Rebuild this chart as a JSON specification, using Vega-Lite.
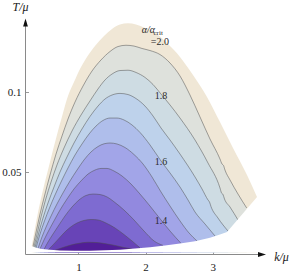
{
  "$schema": "https://vega.github.io/schema/vega-lite/v6.json",
  "width": 293,
  "height": 272,
  "autosize": {"type": "none"},
  "padding": 0,
  "background": "white",
  "config": {"view": {"stroke": null}, "font": "Liberation Serif"},
  "datasets": {
    "contours": [
      {"level": 2.0, "k": 0.3051, "T": 0.0039}, {"level": 2.0, "k": 0.3542, "T": 0.0152}, {"level": 2.0, "k": 0.4063, "T": 0.0264}, {"level": 2.0, "k": 0.4732, "T": 0.0389}, {"level": 2.0, "k": 0.5476, "T": 0.0514}, {"level": 2.0, "k": 0.6220, "T": 0.0639}, {"level": 2.0, "k": 0.6964, "T": 0.0758}, {"level": 2.0, "k": 0.7708, "T": 0.0871}, {"level": 2.0, "k": 0.8452, "T": 0.0977}, {"level": 2.0, "k": 0.9345, "T": 0.1064}, {"level": 2.0, "k": 1.0238, "T": 0.1146}, {"level": 2.0, "k": 1.1280, "T": 0.1221}, {"level": 2.0, "k": 1.2470, "T": 0.1289}, {"level": 2.0, "k": 1.3810, "T": 0.1352}, {"level": 2.0, "k": 1.5000, "T": 0.1396}, {"level": 2.0, "k": 1.6190, "T": 0.1424}, {"level": 2.0, "k": 1.7381, "T": 0.1431}, {"level": 2.0, "k": 1.8571, "T": 0.1424}, {"level": 2.0, "k": 1.9911, "T": 0.1402}, {"level": 2.0, "k": 2.1101, "T": 0.1380}, {"level": 2.0, "k": 2.3185, "T": 0.1308}, {"level": 2.0, "k": 2.5119, "T": 0.1221}, {"level": 2.0, "k": 2.7054, "T": 0.1108}, {"level": 2.0, "k": 2.9137, "T": 0.0971}, {"level": 2.0, "k": 3.1071, "T": 0.0814}, {"level": 2.0, "k": 3.3006, "T": 0.0652}, {"level": 2.0, "k": 3.5089, "T": 0.0483}, {"level": 2.0, "k": 3.6577, "T": 0.0346},
      {"level": 1.9, "k": 0.3244, "T": 0.0036}, {"level": 1.9, "k": 0.3765, "T": 0.0139}, {"level": 1.9, "k": 0.4286, "T": 0.0239}, {"level": 1.9, "k": 0.4955, "T": 0.0352}, {"level": 1.9, "k": 0.5774, "T": 0.0483}, {"level": 1.9, "k": 0.6667, "T": 0.0614}, {"level": 1.9, "k": 0.7560, "T": 0.0727}, {"level": 1.9, "k": 0.8452, "T": 0.0833}, {"level": 1.9, "k": 0.9494, "T": 0.0939}, {"level": 1.9, "k": 1.0685, "T": 0.1039}, {"level": 1.9, "k": 1.2024, "T": 0.1133}, {"level": 1.9, "k": 1.3363, "T": 0.1202}, {"level": 1.9, "k": 1.4702, "T": 0.1255}, {"level": 1.9, "k": 1.5893, "T": 0.1286}, {"level": 1.9, "k": 1.7083, "T": 0.1294}, {"level": 1.9, "k": 1.8274, "T": 0.1289}, {"level": 1.9, "k": 1.9464, "T": 0.1274}, {"level": 1.9, "k": 2.0655, "T": 0.1261}, {"level": 1.9, "k": 2.2143, "T": 0.1236}, {"level": 1.9, "k": 2.3631, "T": 0.1183}, {"level": 1.9, "k": 2.5119, "T": 0.1102}, {"level": 1.9, "k": 2.6607, "T": 0.0983}, {"level": 1.9, "k": 2.8095, "T": 0.0846}, {"level": 1.9, "k": 2.9583, "T": 0.0708}, {"level": 1.9, "k": 3.1071, "T": 0.0583}, {"level": 1.9, "k": 3.1369, "T": 0.0552}, {"level": 1.9, "k": 3.1592, "T": 0.0543}, {"level": 1.9, "k": 3.1815, "T": 0.0514}, {"level": 1.9, "k": 3.2560, "T": 0.0452}, {"level": 1.9, "k": 3.3750, "T": 0.0364}, {"level": 1.9, "k": 3.5045, "T": 0.0277},
      {"level": 1.8, "k": 0.3393, "T": 0.0033}, {"level": 1.8, "k": 0.3914, "T": 0.0127}, {"level": 1.8, "k": 0.4435, "T": 0.0221}, {"level": 1.8, "k": 0.5104, "T": 0.0327}, {"level": 1.8, "k": 0.5923, "T": 0.0439}, {"level": 1.8, "k": 0.6815, "T": 0.0546}, {"level": 1.8, "k": 0.7857, "T": 0.0652}, {"level": 1.8, "k": 0.9048, "T": 0.0758}, {"level": 1.8, "k": 1.0387, "T": 0.0858}, {"level": 1.8, "k": 1.1726, "T": 0.0946}, {"level": 1.8, "k": 1.2917, "T": 0.1021}, {"level": 1.8, "k": 1.3958, "T": 0.1077}, {"level": 1.8, "k": 1.5000, "T": 0.1114}, {"level": 1.8, "k": 1.6190, "T": 0.1136}, {"level": 1.8, "k": 1.7381, "T": 0.1138}, {"level": 1.8, "k": 1.8571, "T": 0.1124}, {"level": 1.8, "k": 1.9911, "T": 0.1093}, {"level": 1.8, "k": 2.1101, "T": 0.1049}, {"level": 1.8, "k": 2.2292, "T": 0.0989}, {"level": 1.8, "k": 2.3631, "T": 0.0921}, {"level": 1.8, "k": 2.5119, "T": 0.0839}, {"level": 1.8, "k": 2.7351, "T": 0.0702}, {"level": 1.8, "k": 2.9286, "T": 0.0558}, {"level": 1.8, "k": 3.1071, "T": 0.0402}, {"level": 1.8, "k": 3.1295, "T": 0.0371}, {"level": 1.8, "k": 3.1518, "T": 0.0361}, {"level": 1.8, "k": 3.1741, "T": 0.0333}, {"level": 1.8, "k": 3.2560, "T": 0.0283}, {"level": 1.8, "k": 3.3750, "T": 0.0202},
      {"level": 1.7, "k": 0.3542, "T": 0.0030}, {"level": 1.7, "k": 0.4137, "T": 0.0127}, {"level": 1.7, "k": 0.4732, "T": 0.0214}, {"level": 1.7, "k": 0.5476, "T": 0.0308}, {"level": 1.7, "k": 0.6369, "T": 0.0408}, {"level": 1.7, "k": 0.7262, "T": 0.0502}, {"level": 1.7, "k": 0.8304, "T": 0.0596}, {"level": 1.7, "k": 0.9345, "T": 0.0683}, {"level": 1.7, "k": 1.0536, "T": 0.0771}, {"level": 1.7, "k": 1.1726, "T": 0.0849}, {"level": 1.7, "k": 1.2917, "T": 0.0914}, {"level": 1.7, "k": 1.3958, "T": 0.0958}, {"level": 1.7, "k": 1.5000, "T": 0.0983}, {"level": 1.7, "k": 1.6190, "T": 0.0993}, {"level": 1.7, "k": 1.7381, "T": 0.0986}, {"level": 1.7, "k": 1.8571, "T": 0.0961}, {"level": 1.7, "k": 1.9911, "T": 0.0914}, {"level": 1.7, "k": 2.1101, "T": 0.0852}, {"level": 1.7, "k": 2.2292, "T": 0.0777}, {"level": 1.7, "k": 2.3631, "T": 0.0702}, {"level": 1.7, "k": 2.5119, "T": 0.0614}, {"level": 1.7, "k": 2.7351, "T": 0.0471}, {"level": 1.7, "k": 2.8393, "T": 0.0396}, {"level": 1.7, "k": 2.9286, "T": 0.0327}, {"level": 1.7, "k": 2.9509, "T": 0.0314}, {"level": 1.7, "k": 2.9732, "T": 0.0286}, {"level": 1.7, "k": 3.0774, "T": 0.0214}, {"level": 1.7, "k": 3.2262, "T": 0.0133},
      {"level": 1.6, "k": 0.3690, "T": 0.0027}, {"level": 1.6, "k": 0.4286, "T": 0.0114}, {"level": 1.6, "k": 0.4955, "T": 0.0196}, {"level": 1.6, "k": 0.5699, "T": 0.0277}, {"level": 1.6, "k": 0.6518, "T": 0.0358}, {"level": 1.6, "k": 0.7411, "T": 0.0439}, {"level": 1.6, "k": 0.8452, "T": 0.0527}, {"level": 1.6, "k": 0.9494, "T": 0.0608}, {"level": 1.6, "k": 1.0536, "T": 0.0677}, {"level": 1.6, "k": 1.1577, "T": 0.0739}, {"level": 1.6, "k": 1.2619, "T": 0.0789}, {"level": 1.6, "k": 1.3661, "T": 0.0824}, {"level": 1.6, "k": 1.4702, "T": 0.0839}, {"level": 1.6, "k": 1.5744, "T": 0.0839}, {"level": 1.6, "k": 1.6786, "T": 0.0827}, {"level": 1.6, "k": 1.7976, "T": 0.0796}, {"level": 1.6, "k": 1.9167, "T": 0.0749}, {"level": 1.6, "k": 2.0655, "T": 0.0671}, {"level": 1.6, "k": 2.2292, "T": 0.0571}, {"level": 1.6, "k": 2.3631, "T": 0.0496}, {"level": 1.6, "k": 2.5119, "T": 0.0408}, {"level": 1.6, "k": 2.6310, "T": 0.0327}, {"level": 1.6, "k": 2.7351, "T": 0.0252}, {"level": 1.6, "k": 2.8839, "T": 0.0177}, {"level": 1.6, "k": 3.0327, "T": 0.0102},
      {"level": 1.5, "k": 0.3988, "T": 0.0024}, {"level": 1.5, "k": 0.4583, "T": 0.0096}, {"level": 1.5, "k": 0.5253, "T": 0.0164}, {"level": 1.5, "k": 0.5997, "T": 0.0233}, {"level": 1.5, "k": 0.6815, "T": 0.0302}, {"level": 1.5, "k": 0.7708, "T": 0.0371}, {"level": 1.5, "k": 0.8750, "T": 0.0446}, {"level": 1.5, "k": 0.9792, "T": 0.0514}, {"level": 1.5, "k": 1.0833, "T": 0.0577}, {"level": 1.5, "k": 1.1875, "T": 0.0627}, {"level": 1.5, "k": 1.2917, "T": 0.0661}, {"level": 1.5, "k": 1.3810, "T": 0.0678}, {"level": 1.5, "k": 1.4702, "T": 0.0683}, {"level": 1.5, "k": 1.5744, "T": 0.0677}, {"level": 1.5, "k": 1.6935, "T": 0.0655}, {"level": 1.5, "k": 1.8274, "T": 0.0611}, {"level": 1.5, "k": 1.9613, "T": 0.0552}, {"level": 1.5, "k": 2.0952, "T": 0.0471}, {"level": 1.5, "k": 2.2292, "T": 0.0377}, {"level": 1.5, "k": 2.3631, "T": 0.0289}, {"level": 1.5, "k": 2.5119, "T": 0.0196}, {"level": 1.5, "k": 2.6458, "T": 0.0121}, {"level": 1.5, "k": 2.7649, "T": 0.0071},
      {"level": 1.4, "k": 0.4286, "T": 0.0021}, {"level": 1.4, "k": 0.4881, "T": 0.0077}, {"level": 1.4, "k": 0.5625, "T": 0.0139}, {"level": 1.4, "k": 0.6443, "T": 0.0202}, {"level": 1.4, "k": 0.7262, "T": 0.0264}, {"level": 1.4, "k": 0.8304, "T": 0.0333}, {"level": 1.4, "k": 0.9345, "T": 0.0396}, {"level": 1.4, "k": 1.0387, "T": 0.0446}, {"level": 1.4, "k": 1.1429, "T": 0.0489}, {"level": 1.4, "k": 1.2470, "T": 0.0514}, {"level": 1.4, "k": 1.3363, "T": 0.0524}, {"level": 1.4, "k": 1.4256, "T": 0.0524}, {"level": 1.4, "k": 1.5298, "T": 0.0508}, {"level": 1.4, "k": 1.6488, "T": 0.0477}, {"level": 1.4, "k": 1.7827, "T": 0.0427}, {"level": 1.4, "k": 1.9167, "T": 0.0364}, {"level": 1.4, "k": 2.0655, "T": 0.0289}, {"level": 1.4, "k": 2.2292, "T": 0.0202}, {"level": 1.4, "k": 2.3631, "T": 0.0133}, {"level": 1.4, "k": 2.5268, "T": 0.0056},
      {"level": 1.3, "k": 0.4881, "T": 0.0018}, {"level": 1.3, "k": 0.5476, "T": 0.0064}, {"level": 1.3, "k": 0.6220, "T": 0.0114}, {"level": 1.3, "k": 0.7113, "T": 0.0171}, {"level": 1.3, "k": 0.8006, "T": 0.0227}, {"level": 1.3, "k": 0.9048, "T": 0.0283}, {"level": 1.3, "k": 1.0089, "T": 0.0327}, {"level": 1.3, "k": 1.1131, "T": 0.0355}, {"level": 1.3, "k": 1.2173, "T": 0.0364}, {"level": 1.3, "k": 1.3214, "T": 0.0361}, {"level": 1.3, "k": 1.4256, "T": 0.0346}, {"level": 1.3, "k": 1.5446, "T": 0.0311}, {"level": 1.3, "k": 1.6786, "T": 0.0264}, {"level": 1.3, "k": 1.8274, "T": 0.0202}, {"level": 1.3, "k": 1.9762, "T": 0.0133}, {"level": 1.3, "k": 2.1250, "T": 0.0071}, {"level": 1.3, "k": 2.2589, "T": 0.0043},
      {"level": 1.2, "k": 0.5476, "T": 0.0014}, {"level": 1.2, "k": 0.6220, "T": 0.0046}, {"level": 1.2, "k": 0.6964, "T": 0.0080}, {"level": 1.2, "k": 0.7857, "T": 0.0121}, {"level": 1.2, "k": 0.8750, "T": 0.0155}, {"level": 1.2, "k": 0.9792, "T": 0.0183}, {"level": 1.2, "k": 1.0833, "T": 0.0199}, {"level": 1.2, "k": 1.1875, "T": 0.0205}, {"level": 1.2, "k": 1.2917, "T": 0.0202}, {"level": 1.2, "k": 1.4107, "T": 0.0183}, {"level": 1.2, "k": 1.5446, "T": 0.0152}, {"level": 1.2, "k": 1.6786, "T": 0.0111}, {"level": 1.2, "k": 1.7976, "T": 0.0071}, {"level": 1.2, "k": 1.9167, "T": 0.0028},
      {"level": 1.1, "k": 0.6518, "T": 0.0013}, {"level": 1.1, "k": 0.7560, "T": 0.0028}, {"level": 1.1, "k": 0.8750, "T": 0.0044}, {"level": 1.1, "k": 1.0089, "T": 0.0056}, {"level": 1.1, "k": 1.1429, "T": 0.0063}, {"level": 1.1, "k": 1.2768, "T": 0.0061}, {"level": 1.1, "k": 1.4107, "T": 0.0053}, {"level": 1.1, "k": 1.5446, "T": 0.0043}, {"level": 1.1, "k": 1.6786, "T": 0.0030}, {"level": 1.1, "k": 1.7976, "T": 0.0021}
    ],
    "boundary": [
      {"k": 0.2946, "T": 0.0039}, {"k": 0.3690, "T": 0.0028}, {"k": 0.4583, "T": 0.0021}, {"k": 0.5774, "T": 0.0016}, {"k": 0.7262, "T": 0.0012}, {"k": 0.9494, "T": 0.0010}, {"k": 1.1726, "T": 0.0010}, {"k": 1.3958, "T": 0.0013}, {"k": 1.6190, "T": 0.0016}, {"k": 1.8423, "T": 0.0023}, {"k": 2.0655, "T": 0.0031}, {"k": 2.2887, "T": 0.0043}, {"k": 2.5119, "T": 0.0055}, {"k": 2.7351, "T": 0.0069}, {"k": 2.9583, "T": 0.0091}, {"k": 3.1071, "T": 0.0111}, {"k": 3.2113, "T": 0.0127}, {"k": 3.6577, "T": 0.0346}
    ],
    "axislines": [
      {"k": 0.2128, "T": -0.001375, "k2": 0.2128, "T2": 0.1439},
      {"k": 0.2128, "T": -0.001375, "k2": 3.6875, "T2": -0.001375}
    ]
  },
  "layer": [
    {
      "data": {"name": "contours"},
      "mark": {"type": "area", "interpolate": "monotone"},
      "encoding": {
        "x": {
          "field": "k", "type": "quantitative",
          "scale": {"domain": [-0.166667, 4.193452], "nice": false, "zero": false},
          "axis": {
            "orient": "bottom", "offset": -17.5, "domain": false, "grid": false,
            "values": [1, 2, 3], "format": "d", "tickSize": -3, "tickColor": "#808080", "tickWidth": 0.8,
            "labelFont": "Liberation Serif", "labelFontSize": 11, "labelColor": "#1a1a1a", "labelPadding": 10,
            "title": "k/μ", "titleFont": "Liberation Serif", "titleFontSize": 12, "titleFontStyle": "italic", "titleFontWeight": "normal", "titleColor": "#1a1a1a",
            "titleX": 281, "titleY": 6, "titleAlign": "center", "titleBaseline": "alphabetic", "titleAngle": 0
          }
        },
        "y": {
          "field": "T", "type": "quantitative", "stack": null,
          "scale": {"domain": [-0.0123125, 0.1576875], "nice": false, "zero": false},
          "axis": {
            "orient": "left", "offset": -25.5, "domain": false, "grid": false,
            "values": [0.05, 0.1], "format": "~g", "tickSize": -3, "tickColor": "#808080", "tickWidth": 0.8,
            "labelFont": "Liberation Serif", "labelFontSize": 11, "labelColor": "#1a1a1a", "labelPadding": 7.5,
            "title": "T/μ", "titleFont": "Liberation Serif", "titleFontSize": 12, "titleFontStyle": "italic", "titleFontWeight": "normal", "titleColor": "#1a1a1a",
            "titleX": -5.5, "titleY": 10.5, "titleAlign": "center", "titleBaseline": "alphabetic", "titleAngle": 0
          }
        },
        "y2": {"datum": 0},
        "color": {
          "field": "level", "type": "ordinal", "legend": null,
          "scale": {
            "domain": [2.0, 1.9, 1.8, 1.7, 1.6, 1.5, 1.4, 1.3, 1.2, 1.1],
            "range": ["#F0E7D6", "#DEE1DC", "#CEDCE3", "#BED2EB", "#AFBEEB", "#A2A5E8", "#9289DF", "#7E6BD1", "#6844B7", "#521E98"]
          }
        }
      }
    },
    {
      "data": {"name": "contours"},
      "transform": [{"filter": "datum.level < 1.95"}],
      "mark": {"type": "line", "interpolate": "monotone", "color": "#505050", "strokeWidth": 0.6, "opacity": 0.85},
      "encoding": {
        "x": {"field": "k", "type": "quantitative"},
        "y": {"field": "T", "type": "quantitative"},
        "detail": {"field": "level", "type": "ordinal"}
      }
    },
    {
      "data": {"name": "boundary"},
      "mark": {"type": "area", "interpolate": "linear", "color": "white"},
      "encoding": {
        "x": {"field": "k", "type": "quantitative"},
        "y": {"field": "T", "type": "quantitative"},
        "y2": {"datum": 0}
      }
    },
    {
      "data": {"name": "axislines"},
      "mark": {"type": "rule", "color": "#8a8a8a", "strokeWidth": 1},
      "encoding": {
        "x": {"field": "k", "type": "quantitative"},
        "y": {"field": "T", "type": "quantitative"},
        "x2": {"field": "k2"},
        "y2": {"field": "T2"}
      }
    },
    {
      "data": {"values": [{"k": 0.2128, "T": 0.1436}]},
      "mark": {"type": "point", "shape": "M0,-1L0.6,1L-0.6,1Z", "size": 64, "filled": true, "color": "#111111", "opacity": 1},
      "encoding": {
        "x": {"field": "k", "type": "quantitative"},
        "y": {"field": "T", "type": "quantitative"}
      }
    },
    {
      "data": {"values": [{"k": 3.7321, "T": -0.001375}]},
      "mark": {"type": "point", "shape": "M1,0L-1,0.6L-1,-0.6Z", "size": 64, "filled": true, "color": "#111111", "opacity": 1},
      "encoding": {
        "x": {"field": "k", "type": "quantitative"},
        "y": {"field": "T", "type": "quantitative"}
      }
    },
    {
      "data": {"values": [
        {"txt": "1.8", "k": 2.2292, "T": 0.0977},
        {"txt": "1.6", "k": 2.2292, "T": 0.0566},
        {"txt": "1.4", "k": 2.2292, "T": 0.0196}
      ]},
      "mark": {"type": "text", "font": "Liberation Serif", "fontSize": 10, "color": "#2a2a2a", "align": "center", "baseline": "middle"},
      "encoding": {
        "x": {"field": "k", "type": "quantitative"},
        "y": {"field": "T", "type": "quantitative"},
        "text": {"field": "txt"}
      }
    },
    {
      "data": {"values": [{"txt": "α/α", "k": 1.9420, "T": 0.1369}]},
      "mark": {"type": "text", "font": "Liberation Serif", "fontSize": 10, "fontStyle": "italic", "color": "#2a2a2a", "align": "left", "baseline": "alphabetic"},
      "encoding": {
        "x": {"field": "k", "type": "quantitative"},
        "y": {"field": "T", "type": "quantitative"},
        "text": {"field": "txt"}
      }
    },
    {
      "data": {"values": [{"txt": "crit", "k": 2.1176, "T": 0.1358}]},
      "mark": {"type": "text", "font": "Liberation Serif", "fontSize": 7, "color": "#2a2a2a", "align": "left", "baseline": "alphabetic"},
      "encoding": {
        "x": {"field": "k", "type": "quantitative"},
        "y": {"field": "T", "type": "quantitative"},
        "text": {"field": "txt"}
      }
    },
    {
      "data": {"values": [{"txt": "=2.0", "k": 2.3482, "T": 0.1296}]},
      "mark": {"type": "text", "font": "Liberation Serif", "fontSize": 10, "color": "#2a2a2a", "align": "right", "baseline": "alphabetic"},
      "encoding": {
        "x": {"field": "k", "type": "quantitative"},
        "y": {"field": "T", "type": "quantitative"},
        "text": {"field": "txt"}
      }
    }
  ]
}
